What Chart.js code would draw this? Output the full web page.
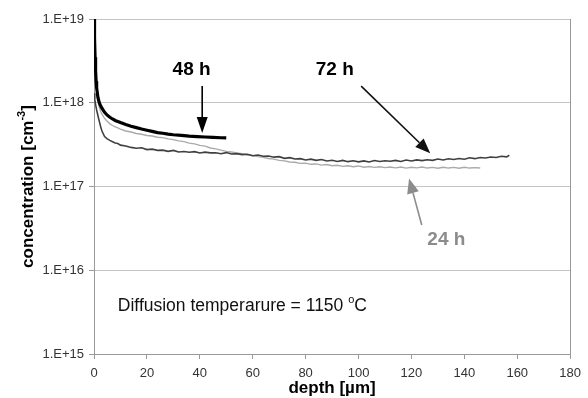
<!DOCTYPE html>
<html>
<head>
<meta charset="utf-8">
<script src="https://cdn.jsdelivr.net/npm/chart.js@4"></script>
<style>
  body { margin: 0; background: #fff; }
  #wrap { width: 588px; height: 398px; position: relative; }
</style>
</head>
<body>
<div id="wrap"><canvas id="diffChart"></canvas></div>
<script>
// depth [um] / concentration [cm^-3]
const depth48 = [0, 0.2, 0.4, 0.6, 0.8, 1, 1.5, 2, 2.5, 3, 4, 5, 6, 7, 8, 10, 12, 14, 16, 18, 20, 22, 24, 26, 28, 30, 33, 36, 39, 42, 45, 48, 50];
const conc48 = [1e19, 6e18, 3.5e18, 2.4e18, 1.8e18, 1.5e18, 1.15e18, 1.0e18, 9.2e17, 8.6e17, 7.7e17, 7.1e17, 6.7e17, 6.4e17, 6.15e17, 5.8e17, 5.5e17, 5.25e17, 5.05e17, 4.85e17, 4.7e17, 4.55e17, 4.4e17, 4.32e17, 4.22e17, 4.15e17, 4.08e17, 4.0e17, 3.95e17, 3.9e17, 3.86e17, 3.82e17, 3.8e17];

const depth72 = [0, 0.3, 0.6, 1, 1.5, 2, 2.5, 3, 4, 5, 6, 7, 8, 9, 10, 12, 14, 16, 18, 20, 22, 24, 26, 28, 30, 32, 34, 36, 38, 40, 42, 44, 46, 48, 50, 52, 54, 56, 58, 60, 62, 64, 66, 68, 70, 72, 74, 76, 78, 80, 82, 84, 86, 88, 90, 92, 94, 96, 98, 100, 102, 104, 106, 108, 110, 112, 114, 116, 118, 120, 122, 124, 126, 128, 130, 132, 134, 136, 138, 140, 142, 144, 146, 148, 150, 152, 154, 156, 157];
const conc72 = [1.3e18, 1.1e18, 9.5e17, 8.2e17, 7.0e17, 6.0e17, 5.2e17, 4.6e17, 3.95e17, 3.7e17, 3.55e17, 3.42e17, 3.3e17, 3.26e17, 3.12e17, 3.05e17, 2.93e17, 2.86e17, 2.9e17, 2.76e17, 2.79e17, 2.7e17, 2.72e17, 2.63e17, 2.7e17, 2.58e17, 2.62e17, 2.56e17, 2.61e17, 2.51e17, 2.57e17, 2.52e17, 2.53e17, 2.46e17, 2.54e17, 2.44e17, 2.47e17, 2.4e17, 2.43e17, 2.33e17, 2.38e17, 2.3e17, 2.31e17, 2.24e17, 2.27e17, 2.17e17, 2.21e17, 2.13e17, 2.15e17, 2.07e17, 2.12e17, 2.05e17, 2.1e17, 2.02e17, 2.06e17, 1.99e17, 2.05e17, 1.98e17, 2.03e17, 1.97e17, 2.02e17, 1.96e17, 2.04e17, 1.99e17, 2.03e17, 2.0e17, 2.05e17, 1.99e17, 2.07e17, 2.02e17, 2.08e17, 2.04e17, 2.09e17, 2.05e17, 2.13e17, 2.07e17, 2.14e17, 2.1e17, 2.16e17, 2.12e17, 2.2e17, 2.15e17, 2.22e17, 2.19e17, 2.25e17, 2.22e17, 2.3e17, 2.26e17, 2.36e17];

const depth24 = [0, 0.3, 0.6, 1, 1.5, 2, 2.5, 3, 4, 5, 6, 7, 8, 9, 10, 12, 14, 16, 18, 20, 22, 24, 26, 28, 30, 32, 34, 36, 38, 40, 42, 44, 46, 48, 50, 52, 54, 56, 58, 60, 62, 64, 66, 68, 70, 72, 74, 76, 78, 80, 82, 84, 86, 88, 90, 92, 94, 96, 98, 100, 102, 104, 106, 108, 110, 112, 114, 116, 118, 120, 122, 124, 126, 128, 130, 132, 134, 136, 138, 140, 142, 144, 146];
const conc24 = [5e18, 3.5e18, 2.2e18, 1.5e18, 1.05e18, 8.8e17, 7.9e17, 7.3e17, 6.5e17, 6.0e17, 5.6e17, 5.35e17, 5.15e17, 5.0e17, 4.85e17, 4.6e17, 4.47e17, 4.3e17, 4.21e17, 4.07e17, 4.01e17, 3.87e17, 3.83e17, 3.7e17, 3.63e17, 3.5e17, 3.43e17, 3.3e17, 3.23e17, 3.1e17, 3.03e17, 2.88e17, 2.81e17, 2.72e17, 2.63e17, 2.58e17, 2.51e17, 2.46e17, 2.39e17, 2.34e17, 2.27e17, 2.23e17, 2.16e17, 2.12e17, 2.05e17, 2.02e17, 1.96e17, 1.95e17, 1.89e17, 1.9e17, 1.84e17, 1.86e17, 1.8e17, 1.83e17, 1.77e17, 1.79e17, 1.74e17, 1.77e17, 1.72e17, 1.76e17, 1.7e17, 1.73e17, 1.69e17, 1.72e17, 1.68e17, 1.71e17, 1.67e17, 1.71e17, 1.66e17, 1.7e17, 1.67e17, 1.71e17, 1.66e17, 1.69e17, 1.65e17, 1.7e17, 1.66e17, 1.69e17, 1.65e17, 1.7e17, 1.66e17, 1.68e17, 1.66e17];

const xTicks = [0, 20, 40, 60, 80, 100, 120, 140, 160, 180];
const yTicks = [1e15, 1e16, 1e17, 1e18, 1e19];

const FONT = "'Liberation Sans', Arial, sans-serif";

const pts = (xs, ys) => xs.map((x, i) => ({ x: x, y: ys[i] }));

// labels, arrows, note and axis titles drawn on top of the chart
const notesPlugin = {
    id: 'notes',
    afterDraw(chart) {
        const ctx = chart.ctx;
        const xs = chart.scales.x, ys = chart.scales.y;
        const ca = chart.chartArea;
        const px = v => xs.getPixelForValue(v);
        const py = v => ys.getPixelForValue(v);

        ctx.save();
        // right frame line
        ctx.strokeStyle = '#999';
        ctx.lineWidth = 1;
        ctx.beginPath();
        ctx.moveTo(Math.round(ca.right) + 0.5, ca.top);
        ctx.lineTo(Math.round(ca.right) + 0.5, ca.bottom);
        ctx.stroke();

        const arrow = (x1, y1, x2, y2, color, head, halfW) => {
            const a = Math.atan2(y2 - y1, x2 - x1);
            const bx = x2 - head * Math.cos(a), by = y2 - head * Math.sin(a);
            ctx.strokeStyle = color;
            ctx.fillStyle = color;
            ctx.lineWidth = 1.6;
            ctx.beginPath();
            ctx.moveTo(x1, y1);
            ctx.lineTo(bx, by);
            ctx.stroke();
            ctx.beginPath();
            ctx.moveTo(x2, y2);
            ctx.lineTo(bx + halfW * Math.sin(a), by - halfW * Math.cos(a));
            ctx.lineTo(bx - halfW * Math.sin(a), by + halfW * Math.cos(a));
            ctx.closePath();
            ctx.fill();
        };

        ctx.font = 'bold 19px ' + FONT;
        ctx.textAlign = 'center';
        ctx.textBaseline = 'middle';
        ctx.fillStyle = '#000';
        ctx.fillText('48 h', px(36.9), py(2.46e18));
        ctx.fillText('72 h', px(91), py(2.46e18));
        ctx.fillStyle = '#8c8c8c';
        ctx.fillText('24 h', px(133.2), py(2.33e16));

        arrow(px(40.9), py(1.58e18), px(40.9), py(4.35e17), '#000', 16, 5.5);
        arrow(px(101), py(1.58e18), px(127.1), py(2.5e17), '#111', 15, 6);
        arrow(px(123.9), py(3.47e16), px(119.1), py(1.25e17), '#8c8c8c', 15, 6);

        // diffusion temperature note with superscript degree
        ctx.fillStyle = '#111';
        ctx.textAlign = 'left';
        ctx.textBaseline = 'alphabetic';
        ctx.font = '17.5px ' + FONT;
        let tx = px(9), ty = py(3.26e15);
        const part1 = 'Diffusion temperarure = 1150 ';
        ctx.fillText(part1, tx, ty);
        tx += ctx.measureText(part1).width;
        ctx.font = '11px ' + FONT;
        ctx.fillText('o', tx, ty - 8);
        tx += ctx.measureText('o').width;
        ctx.font = '17.5px ' + FONT;
        ctx.fillText('C', tx, ty);

        // x title
        ctx.fillStyle = '#000';
        ctx.font = 'bold 17px ' + FONT;
        ctx.textAlign = 'center';
        ctx.fillText('depth [\u00b5m]', (ca.left + ca.right) / 2, 393);

        // y title, rotated, with superscript
        const main = 'concentration [cm', sup = '-3', tail = ']';
        ctx.font = 'bold 17px ' + FONT;
        const wMain = ctx.measureText(main).width, wTail = ctx.measureText(tail).width;
        ctx.font = 'bold 11px ' + FONT;
        const wSup = ctx.measureText(sup).width;
        const total = wMain + wSup + wTail;
        ctx.translate(33, (ca.top + ca.bottom) / 2);
        ctx.rotate(-Math.PI / 2);
        ctx.textAlign = 'left';
        let sx = -total / 2;
        ctx.font = 'bold 17px ' + FONT;
        ctx.fillText(main, sx, 0);
        sx += wMain;
        ctx.font = 'bold 11px ' + FONT;
        ctx.fillText(sup, sx, -8);
        sx += wSup;
        ctx.font = 'bold 17px ' + FONT;
        ctx.fillText(tail, sx, 0);
        ctx.restore();
    }
};

new Chart(document.getElementById('diffChart'), {
    type: 'line',
    data: {
        datasets: [
            { label: '48 h', data: pts(depth48, conc48), borderColor: '#000', borderWidth: 3.2 },
            { label: '72 h', data: pts(depth72, conc72), borderColor: '#404040', borderWidth: 1.6 },
            { label: '24 h', data: pts(depth24, conc24), borderColor: '#aaaaaa', borderWidth: 1.4 }
        ]
    },
    options: {
        responsive: true,
        maintainAspectRatio: false,
        animation: false,
        elements: { point: { radius: 0 }, line: { tension: 0 } },
        layout: { padding: { top: 19, right: 14, left: 0, bottom: 0 } },
        plugins: { legend: { display: false }, tooltip: { enabled: false } },
        scales: {
            x: {
                type: 'linear',
                min: 0, max: 180,
                afterBuildTicks: s => { s.ticks = xTicks.map(v => ({ value: v })); },
                afterFit: s => { s.height = 44; },
                grid: { drawOnChartArea: false, drawTicks: true, tickLength: 5, tickColor: '#999' },
                border: { color: '#999' },
                ticks: { color: '#333', padding: 7, maxRotation: 0, font: { family: FONT, size: 13 } }
            },
            y: {
                type: 'logarithmic',
                min: 1e15, max: 1e19,
                afterBuildTicks: s => { s.ticks = yTicks.map(v => ({ value: v })); },
                afterFit: s => { s.width = 94; },
                grid: { color: '#c4c4c4', tickLength: 5, tickColor: '#999' },
                border: { color: '#999' },
                ticks: {
                    color: '#333', padding: 5, font: { family: FONT, size: 13 },
                    callback: v => '1.E+' + Math.round(Math.log10(v))
                }
            }
        }
    },
    plugins: [notesPlugin]
});
</script>
</body>
</html>
